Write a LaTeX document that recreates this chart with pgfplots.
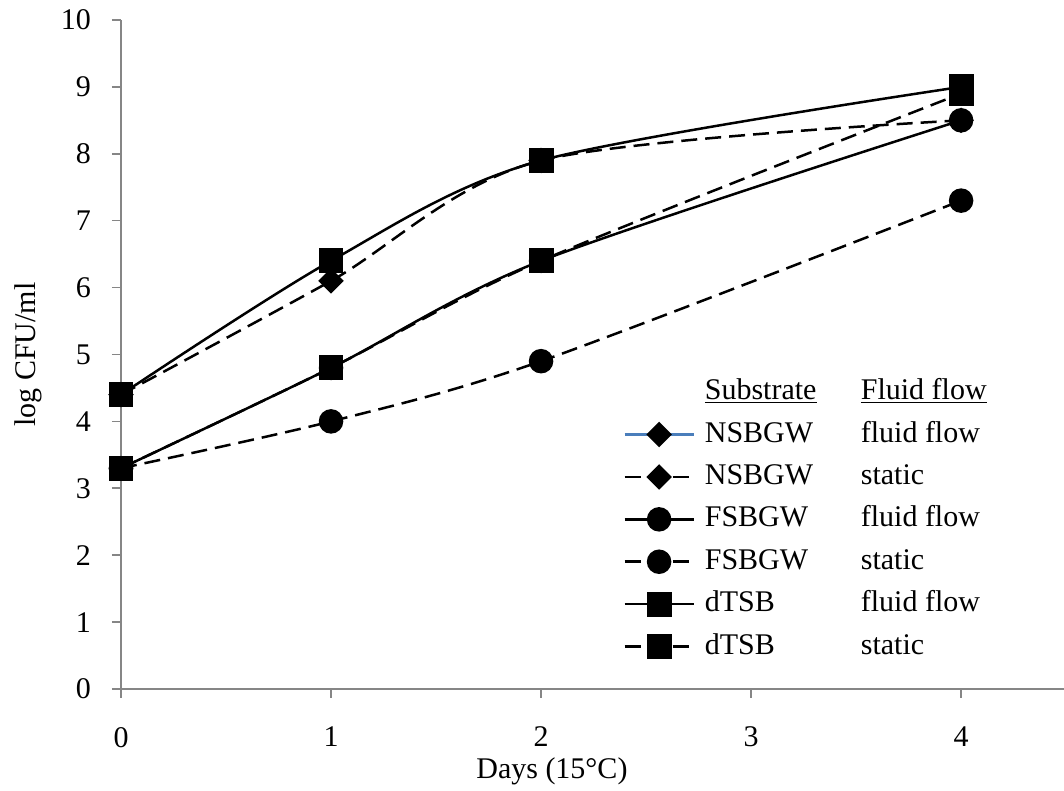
\documentclass[border=0pt]{standalone}
\usepackage{fontspec}
\setmainfont{Liberation Serif}
\usepackage{pgfplots}
\pgfplotsset{compat=1.18}

\definecolor{axisgray}{HTML}{868686}
\definecolor{xlblue}{HTML}{4A7EBB}

\newcommand{\chartfont}{\fontsize{15}{18}\selectfont}

\tikzset{
  solidline/.style={black, line width=1.25pt, solid},
  dashline/.style={black, line width=1.25pt, dash pattern=on 8pt off 4pt},
}
\pgfplotsset{
  dmark/.style={mark=square*, mark size=3.9pt, mark options={rotate=45, solid, fill=black, draw=black}},
  cmark/.style={mark=*, mark size=5.5pt, mark options={solid, fill=black, draw=black}},
  smark/.style={mark=square*, mark size=5.6pt, mark options={solid, fill=black, draw=black}},
}

\begin{document}
\begin{tikzpicture}
\useasboundingbox (-60.5pt,-51pt) rectangle (471.5pt,344.5pt);
\begin{axis}[
  at={(0pt,0pt)}, anchor=south west,
  scale only axis,
  width=471.5pt, height=334.5pt,
  xmin=0, xmax=4.49,
  ymin=0, ymax=10,
  axis x line*=bottom,
  axis y line*=left,
  axis line style={axisgray, line width=0.8pt},
  every tick/.style={axisgray, line width=0.8pt},
  tick align=outside,
  major tick length=4.5pt,
  xtick={0,1,2,3,4},
  ytick={0,1,...,10},
  tick label style={font=\chartfont},
  /pgf/number format/assume math mode=true,
  xticklabel style={yshift=-11pt},
  yticklabel style={xshift=-7pt},
  xlabel={Days (15°C)},
  ylabel={log CFU/ml},
  every axis x label/.style={at={(axis description cs:0.457,0)}, anchor=north, yshift=-31pt, font=\chartfont},
  every axis y label/.style={at={(axis description cs:-0.0986,0.5)}, rotate=90, anchor=center, font=\chartfont},
  legend cell align=left,
  legend style={
    draw=none, fill=none,
    at={(axis cs:2.39,4.66)}, anchor=north west,
    inner sep=0pt,
    nodes={inner sep=0pt, text height=11pt, text depth=3.5pt},
    row sep=6.7pt,
    column sep=5pt,
    font=\chartfont,
  },
  legend image code/.code={
    \draw[mark repeat=2, mark phase=2, #1]
      plot coordinates {(0pt,0pt) (17.25pt,0pt) (34.5pt,0pt)};
  },
  clip=false,
]
\addlegendimage{empty legend}
\addlegendentry{\makebox[78pt][l]{\underline{Substrate}}\underline{Fluid flow}}

% NSBGW, fluid flow (no plotted values, legend entry only)
\addlegendimage{xlblue, line width=1.25pt, solid, dmark}
\addlegendentry{\makebox[78pt][l]{NSBGW}fluid flow}

% NSBGW, static
\addplot[dashline, smooth, dmark] coordinates {(0,4.4) (1,6.1) (2,7.9) (4,8.5)};
\addlegendentry{\makebox[78pt][l]{NSBGW}static}

% FSBGW, fluid flow
\addplot[solidline, smooth, cmark] coordinates {(0,3.3) (1,4.8) (2,6.4) (4,8.5)};
\addlegendentry{\makebox[78pt][l]{FSBGW}fluid flow}

% FSBGW, static
\addplot[dashline, smooth, cmark] coordinates {(0,3.3) (1,4.0) (2,4.9) (4,7.3)};
\addlegendentry{\makebox[78pt][l]{FSBGW}static}

% dTSB, fluid flow
\addplot[solidline, smooth, smark] coordinates {(0,4.4) (1,6.4) (2,7.9) (4,9.0)};
\addlegendentry{\makebox[78pt][l]{dTSB}fluid flow}

% dTSB, static
\addplot[dashline, smooth, smark] coordinates {(0,3.3) (1,4.8) (2,6.4) (4,8.9)};
\addlegendentry{\makebox[78pt][l]{dTSB}static}
\end{axis}
\end{tikzpicture}
\end{document}
